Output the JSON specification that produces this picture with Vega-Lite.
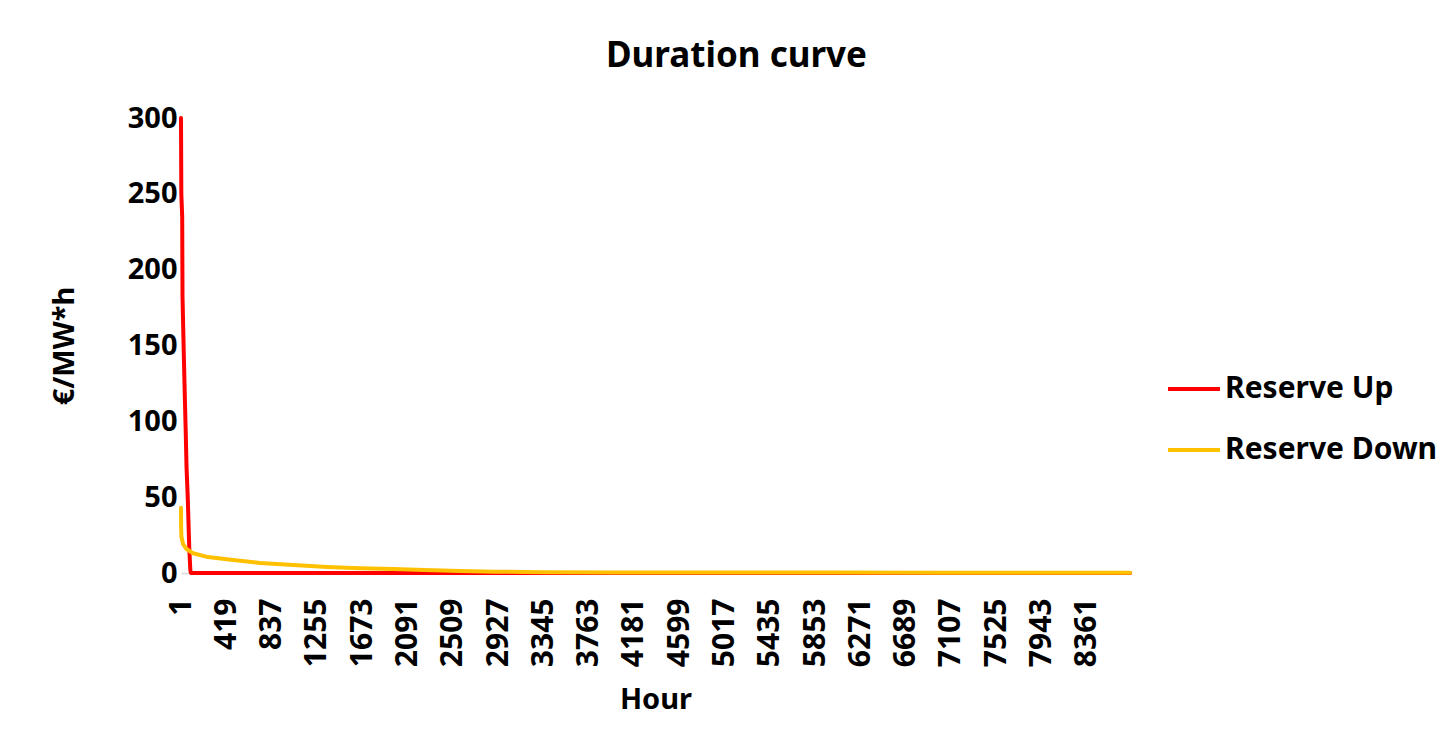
{
  "$schema": "https://vega.github.io/schema/vega-lite/v6.json",
  "autosize": {"type": "none"},
  "width": 949,
  "height": 455,
  "padding": {"left": 181, "top": 118, "right": 323, "bottom": 176},
  "background": "white",
  "config": {
    "font": "Noto Sans",
    "view": {"stroke": null}
  },
  "title": {
    "text": "Duration curve",
    "font": "Noto Sans",
    "fontSize": 35,
    "fontWeight": "bold",
    "color": "black",
    "anchor": "middle",
    "dx": 81,
    "offset": 30
  },
  "data": {
    "values": [
      {"hour": 1, "value": 300, "series": "Reserve Up"},
      {"hour": 4, "value": 250, "series": "Reserve Up"},
      {"hour": 12, "value": 235, "series": "Reserve Up"},
      {"hour": 15, "value": 182, "series": "Reserve Up"},
      {"hour": 25, "value": 150, "series": "Reserve Up"},
      {"hour": 35, "value": 120, "series": "Reserve Up"},
      {"hour": 45, "value": 92, "series": "Reserve Up"},
      {"hour": 52, "value": 70, "series": "Reserve Up"},
      {"hour": 64, "value": 48, "series": "Reserve Up"},
      {"hour": 77, "value": 17, "series": "Reserve Up"},
      {"hour": 87, "value": 2, "series": "Reserve Up"},
      {"hour": 92, "value": 0, "series": "Reserve Up"},
      {"hour": 8760, "value": 0, "series": "Reserve Up"},
      {"hour": 1, "value": 43, "series": "Reserve Down"},
      {"hour": 2, "value": 30, "series": "Reserve Down"},
      {"hour": 5, "value": 24, "series": "Reserve Down"},
      {"hour": 20, "value": 19, "series": "Reserve Down"},
      {"hour": 50, "value": 16, "series": "Reserve Down"},
      {"hour": 112, "value": 13, "series": "Reserve Down"},
      {"hour": 250, "value": 10.5, "series": "Reserve Down"},
      {"hour": 423, "value": 9, "series": "Reserve Down"},
      {"hour": 730, "value": 6.6, "series": "Reserve Down"},
      {"hour": 885, "value": 6, "series": "Reserve Down"},
      {"hour": 1000, "value": 5.4, "series": "Reserve Down"},
      {"hour": 1349, "value": 4, "series": "Reserve Down"},
      {"hour": 1650, "value": 3.2, "series": "Reserve Down"},
      {"hour": 1958, "value": 2.6, "series": "Reserve Down"},
      {"hour": 2250, "value": 1.9, "series": "Reserve Down"},
      {"hour": 2576, "value": 1.3, "series": "Reserve Down"},
      {"hour": 2900, "value": 0.9, "series": "Reserve Down"},
      {"hour": 3342, "value": 0.5, "series": "Reserve Down"},
      {"hour": 4000, "value": 0.4, "series": "Reserve Down"},
      {"hour": 5000, "value": 0.3, "series": "Reserve Down"},
      {"hour": 6000, "value": 0.25, "series": "Reserve Down"},
      {"hour": 7000, "value": 0.2, "series": "Reserve Down"},
      {"hour": 8000, "value": 0.15, "series": "Reserve Down"},
      {"hour": 8760, "value": 0.1, "series": "Reserve Down"}
    ]
  },
  "mark": {"type": "line", "strokeWidth": 4, "strokeCap": "round", "strokeJoin": "round"},
  "encoding": {
    "x": {
      "field": "hour",
      "type": "quantitative",
      "scale": {"domain": [1, 8760], "nice": false, "zero": false},
      "axis": {
        "title": "Hour",
        "format": "d",
        "values": [1, 419, 837, 1255, 1673, 2091, 2509, 2927, 3345, 3763, 4181, 4599, 5017, 5435, 5853, 6271, 6689, 7107, 7525, 7943, 8361],
        "labelAngle": -90,
        "labelFont": "Noto Sans",
        "labelFontSize": 30,
        "labelFontWeight": "bold",
        "labelColor": "black",
        "labelPadding": 25,
        "labelFlush": false,
        "labelOverlap": false,
        "labelBound": false,
        "ticks": false,
        "grid": false,
        "domainColor": "#d9d9d9",
        "domainWidth": 1.5,
        "titleFont": "Noto Sans",
        "titleFontSize": 29,
        "titleFontWeight": "bold",
        "titleColor": "black",
        "titlePadding": 19
      }
    },
    "y": {
      "field": "value",
      "type": "quantitative",
      "scale": {"domain": [0, 300], "nice": false},
      "axis": {
        "title": "€/MW*h",
        "values": [0, 50, 100, 150, 200, 250, 300],
        "labelFont": "Noto Sans",
        "labelFontSize": 29,
        "labelFontWeight": "bold",
        "labelColor": "black",
        "labelPadding": 4,
        "ticks": false,
        "domain": false,
        "grid": false,
        "titleFont": "Noto Sans",
        "titleFontSize": 29,
        "titleFontWeight": "bold",
        "titleColor": "black",
        "titlePadding": 48
      }
    },
    "color": {
      "field": "series",
      "type": "nominal",
      "scale": {"domain": ["Reserve Up", "Reserve Down"], "range": ["#FF0000", "#FFC000"]},
      "legend": {
        "title": null,
        "orient": "none",
        "legendX": 985,
        "legendY": 243,
        "symbolType": "stroke",
        "symbolSize": 2704,
        "symbolStrokeWidth": 4,
        "labelFont": "Noto Sans",
        "labelFontSize": 30,
        "labelFontWeight": "bold",
        "labelColor": "black",
        "labelOffset": 3,
        "rowPadding": 18,
        "labelLimit": 400
      }
    }
  }
}
